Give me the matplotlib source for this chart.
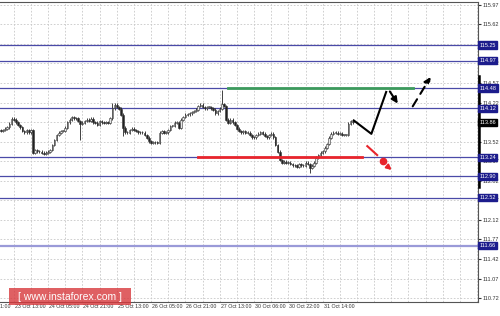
import numpy as np
import matplotlib
matplotlib.use("Agg")
import matplotlib.pyplot as plt
from matplotlib.patches import FancyBboxPatch

plt.rcParams['font.family'] = ['Liberation Sans', 'DejaVu Sans']

# Fechamentos horarios
fechamentos = [113.71, 113.73, 113.75, 113.78, 113.84, 113.93, 113.91, 113.87, 113.82, 113.78,
               113.71, 113.69, 113.73, 113.69, 113.73, 113.32, 113.37, 113.35, 113.34, 113.32,
               113.30, 113.32, 113.34, 113.37, 113.46, 113.55, 113.64, 113.68, 113.71, 113.71,
               113.77, 113.87, 113.91, 113.96, 113.94, 113.94, 113.89, 113.84, 113.86, 113.89,
               113.91, 113.89, 113.93, 113.87, 113.86, 113.82, 113.89, 113.87, 113.86, 113.87,
               113.86, 113.94, 114.12, 114.18, 114.14, 114.11, 114.00, 113.77, 113.69, 113.68,
               113.73, 113.75, 113.73, 113.71, 113.69, 113.69, 113.68, 113.64, 113.59, 113.53,
               113.50, 113.51, 113.51, 113.50, 113.68, 113.71, 113.68, 113.69, 113.73, 113.80,
               113.80, 113.86, 113.86, 113.77, 113.91, 113.96, 114.00, 114.01, 114.03, 114.05,
               114.07, 114.09, 114.16, 114.18, 114.14, 114.12, 114.14, 114.14, 114.12, 114.09,
               114.03, 114.07, 114.11, 114.19, 114.16, 113.91, 113.86, 113.91, 113.87, 113.82,
               113.75, 113.71, 113.69, 113.71, 113.68, 113.68, 113.64, 113.60, 113.60, 113.64,
               113.66, 113.69, 113.66, 113.62, 113.60, 113.64, 113.66, 113.60, 113.46, 113.34,
               113.19, 113.14, 113.16, 113.14, 113.14, 113.12, 113.10, 113.10, 113.07, 113.12,
               113.10, 113.09, 113.14, 113.12, 113.05, 113.09, 113.14, 113.23, 113.28, 113.32,
               113.35, 113.41, 113.48, 113.59, 113.66, 113.68, 113.68, 113.66, 113.66, 113.64,
               113.64, 113.64, 113.84, 113.89, 113.87]
# sombras mais longas em alguns candles (indice: preco)
minimas_extra = {37: 113.55, 144: 112.96, 57: 113.62, 15: 113.30}
maximas_extra = {103: 114.45, 52: 114.21, 5: 113.97}

# Niveis horizontais
niveis_azuis = [115.25, 114.97, 114.48, 114.12, 113.24, 112.90, 112.52, 111.66]
nivel_verde = 114.48
nivel_vermelho = 113.24
preco_atual = 113.86
ticks_y = [115.97, 115.62, 115.27, 114.92, 114.57, 114.22, 113.87, 113.52, 113.17,
           112.82, 112.47, 112.12, 111.77, 111.42, 111.07, 110.72]
# rotulos totalmente cobertos pelas caixas dos niveis
ticks_ocultos = [115.27, 113.87]

# Rotulos de tempo (indice da barra, texto)
pos_tempo = [-10, 6, 22, 38, 54, 70, 86, 102, 118, 134, 150]
rotulos_tempo = ['20 Oct 21:00', '23 Oct 13:00', '24 Oct 05:00', '24 Oct 21:00', '25 Oct 13:00',
                 '26 Oct 05:00', '26 Oct 21:00', '27 Oct 13:00', '30 Oct 06:00', '30 Oct 22:00',
                 '31 Oct 14:00']

# Setas de previsao
caminho_x = [164.5, 172.7, 179.6]
caminho_y = [113.90, 113.66, 114.41]
seta1 = [(180.6, 114.46), (185.7, 114.16)]
seta2 = [(191.3, 114.11), (201.0, 114.72)]
vermelho_x = [170.8, 175.4]
vermelho_y = [113.44, 113.28]
ponto_vermelho = (178.0, 113.18)
seta_vermelha = [(179.8, 113.09), (183.2, 112.98)]

fig = plt.figure(figsize=(5, 3.16), dpi=100)
ax = fig.add_axes([0, 14 / 316, 478 / 500, 300 / 316])
ax.set_xlim(-0.4, 222.4)
ax.set_ylim(110.65, 116.02)

# grade
for xg in np.arange(-2, 223, 8):
    ax.axvline(xg, color='#c8c8c8', lw=0.6, ls=(0, (2, 2)), zorder=0)
for yg in ticks_y:
    ax.axhline(yg, color='#c8c8c8', lw=0.6, ls=(0, (2, 2)), zorder=0)

# niveis
for nv in niveis_azuis:
    if nv == 111.66:
        ax.axhline(nv, color='#9a9ad8', lw=1.6, zorder=1)
    else:
        ax.axhline(nv, color='#4a4aa8', lw=0.9, zorder=1)

# candles
x = np.arange(len(fechamentos))
c = np.array(fechamentos)
o = np.concatenate([[c[0] + 0.02], c[:-1]])
hi = np.maximum(o, c) + 0.025
lo = np.minimum(o, c) - 0.025
for k, v in maximas_extra.items():
    hi[k] = v
for k, v in minimas_extra.items():
    lo[k] = v
ax.vlines(x, lo, hi, color='#222222', lw=0.6, zorder=3)
altura = np.where(np.abs(c - o) < 0.01, 0.01, c - o)
cores = ['#e8e8e8' if cc >= oo else '#222222' for oo, cc in zip(o, c)]
ax.bar(x, altura, bottom=o, width=0.75, color=cores, edgecolor='#333333', linewidth=0.4, zorder=4)

# linhas verde e vermelha
ax.plot([106, 192], [nivel_verde, nivel_verde], color='#3c9a5c', lw=2, zorder=5)
ax.plot([91.7, 168.5], [nivel_vermelho, nivel_vermelho], color='#e8242c', lw=2, zorder=5)

# previsao
ax.plot(caminho_x, caminho_y, color='black', lw=1.5, zorder=6)
ax.annotate('', xy=seta1[1], xytext=seta1[0],
            arrowprops=dict(arrowstyle='-|>', color='black', lw=1.5, mutation_scale=9), zorder=6)
ax.annotate('', xy=seta2[1], xytext=seta2[0],
            arrowprops=dict(arrowstyle='-|>', color='black', lw=1.5, ls=(0, (4, 3)),
                            mutation_scale=9), zorder=6)
ax.plot(vermelho_x, vermelho_y, color='#e8242c', lw=1.5, zorder=6)
ax.plot(*ponto_vermelho, 'o', color='#e8242c', ms=4.5, zorder=6)
ax.annotate('', xy=seta_vermelha[1], xytext=seta_vermelha[0],
            arrowprops=dict(arrowstyle='-|>', color='#e8242c', lw=1.5, mutation_scale=7), zorder=6)

# eixos
ax.set_xticks([])
ax.yaxis.tick_right()
ax.set_yticks(ticks_y)
ax.set_yticklabels(['' if t in ticks_ocultos else f'{t:.2f}' for t in ticks_y])
ax.tick_params(axis='y', labelsize=4, length=2, pad=1.5, colors='#333333')
ax.spines['left'].set_visible(False)
for s in ['right', 'top', 'bottom']:
    ax.spines[s].set_color('#555555')
    ax.spines[s].set_linewidth(0.8)

tr = ax.get_yaxis_transform()
for nv in niveis_azuis:
    ax.text(1.003, nv, f'{nv:.2f}', transform=tr, fontsize=4, color='white', va='center', ha='left',
            bbox=dict(boxstyle='square,pad=0.2', fc='#1c1c8c', ec='#1c1c8c'), clip_on=False, zorder=10)
ax.text(1.003, preco_atual, f'{preco_atual:.2f}', transform=tr, fontsize=4, color='white', va='center',
        ha='left', bbox=dict(boxstyle='square,pad=0.2', fc='black', ec='black'), clip_on=False, zorder=10)
ax.plot([1.002, 1.002], [114.70, 112.70], transform=tr, color='black', lw=1.8, clip_on=False, zorder=9)

# rotulos de tempo
trx = ax.get_xaxis_transform()
for p, r in zip(pos_tempo, rotulos_tempo):
    ax.text(p + 0.5, -0.005, r, transform=trx, fontsize=3.8, color='#333333', ha='left', va='top',
            clip_on=False)

# marca d'agua
caixa = FancyBboxPatch((9 / 500, 11 / 316), 122 / 500, 17 / 316, boxstyle='square,pad=0',
                       transform=fig.transFigure, fc='#d8383c', ec='none', alpha=0.8, zorder=20)
fig.patches.append(caixa)
fig.text(70 / 500, 19.5 / 316, '[ www.instaforex.com ]', color='white', fontsize=7.5,
         ha='center', va='center', zorder=21)

fig.savefig('out.png', dpi=100)
